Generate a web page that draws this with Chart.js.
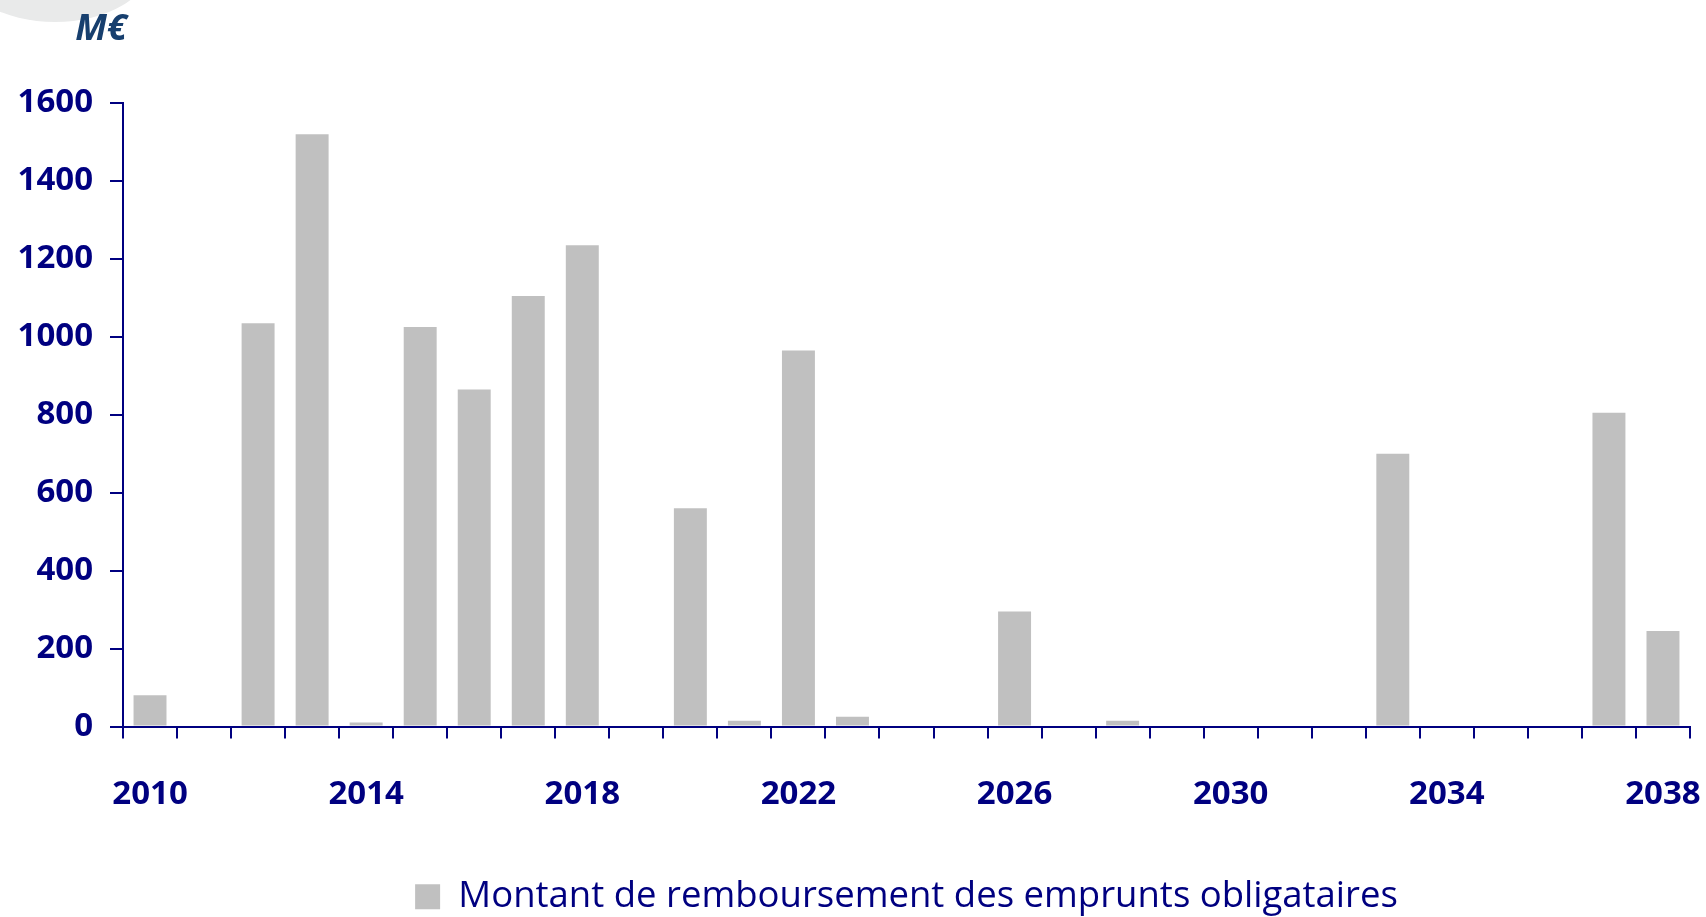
<!DOCTYPE html>
<html>
<head>
<meta charset="utf-8">
<script src="https://cdn.jsdelivr.net/npm/chart.js@4/dist/chart.umd.min.js"></script>
<style>
  html, body { margin: 0; padding: 0; background: #ffffff; overflow: hidden; }
  #wrap { position: relative; width: 1706px; height: 917px; }
  #swoosh { position: absolute; left: -40px; top: -90px; width: 190px; height: 112px; border-radius: 50%; background: #e9eaea; }
  canvas { position: absolute; left: 0; top: 0; }
</style>
</head>
<body>
<div id="wrap">
  <div id="swoosh"></div>
  <canvas id="c" width="1706" height="917"></canvas>
</div>
<script>
const years = ["2010","2011","2012","2013","2014","2015","2016","2017","2018","2019",
               "2020","2021","2022","2023","2024","2025","2026","2027","2028","2029",
               "2030","2031","2032","2033","2034","2035","2036","2037","2038"];
const repayments = [80, 0, 1035, 1520, 10, 1025, 865, 1105, 1235, 0,
                    560, 15, 965, 25, 0, 0, 295, 0, 15, 0,
                    0, 0, 0, 700, 0, 0, 0, 805, 245];
const seriesLabel = "Montant de remboursement des emprunts obligataires";
const unitLabel = "M€";
const yTicks = [0, 200, 400, 600, 800, 1000, 1200, 1400, 1600];

const FONT = "'Comic Sans MS', 'Open Sans', sans-serif";
const NAVY = "#000080";

const unitPlugin = {
  id: 'unitLabel',
  afterDraw(chart) {
    const ctx = chart.ctx;
    ctx.save();
    ctx.font = "italic bold 36px " + FONT;
    ctx.fillStyle = "#173f6e";
    ctx.textAlign = "center";
    ctx.textBaseline = "middle";
    ctx.fillText(unitLabel, 101, 30);
    ctx.restore();
  }
};

new Chart(document.getElementById('c'), {
  type: 'bar',
  data: {
    labels: years,
    datasets: [{
      label: seriesLabel,
      data: repayments,
      backgroundColor: '#c0c0c0',
      borderWidth: 0,
      barPercentage: 0.61,
      categoryPercentage: 1.0
    }]
  },
  options: {
    responsive: false,
    animation: false,
    layout: { padding: { top: 103, right: 16, bottom: -8, left: 0 } },
    plugins: {
      tooltip: { enabled: false },
      legend: {
        position: 'bottom',
        fullSize: false,
        labels: {
          color: NAVY,
          font: { family: FONT, size: 36.5 },
          boxWidth: 25,
          boxHeight: 25,
          padding: 0
        }
      }
    },
    scales: {
      x: {
        grid: {
          display: true,
          offset: true,
          drawOnChartArea: false,
          drawTicks: true,
          tickLength: 12,
          color: NAVY,
          lineWidth: 2
        },
        border: { display: true, color: NAVY, width: 2 },
        ticks: {
          color: NAVY,
          font: { family: FONT, size: 33, weight: 'bold' },
          padding: 36,
          autoSkip: false,
          maxRotation: 0,
          callback: function(v, i) { return i % 4 === 0 ? years[i] : ''; }
        },
        afterFit(scale) { scale.height = 152; scale.paddingLeft = 0; scale.paddingRight = 0; }
      },
      y: {
        min: 0,
        max: 1600,
        afterBuildTicks(scale) { scale.ticks = yTicks.map(v => ({ value: v })); },
        grid: {
          display: true,
          drawOnChartArea: false,
          drawTicks: true,
          tickLength: 13,
          color: NAVY,
          lineWidth: 2
        },
        border: { display: true, color: NAVY, width: 2 },
        ticks: {
          color: NAVY,
          font: { family: FONT, size: 33, weight: 'bold' },
          padding: 17,
          callback: function(v) { return String(v); }
        },
        afterFit(scale) { scale.width = 123; scale.paddingTop = 0; scale.paddingBottom = 0; }
      }
    }
  },
  plugins: [unitPlugin]
});
</script>
</body>
</html>
